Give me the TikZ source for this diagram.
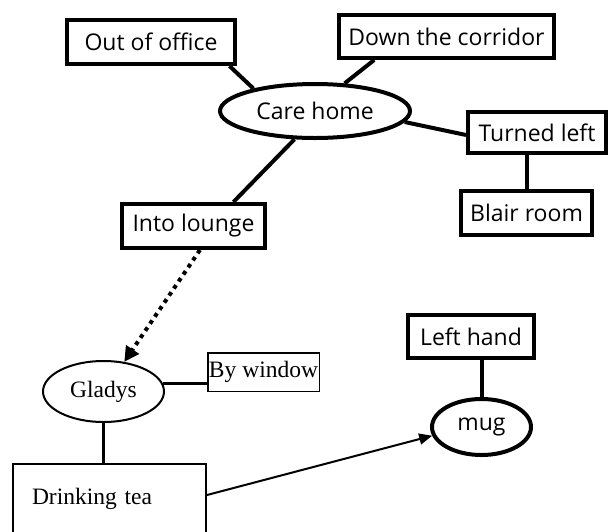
\documentclass[tikz,border=0pt]{standalone}
\usepackage{fontspec}
\setmainfont{Open Sans}
\newfontfamily\timesfont{Liberation Serif}
\usetikzlibrary{arrows.meta,calc,shapes.geometric}

\tikzset{
  hand/.style={font=\fontsize{23}{26}\selectfont, inner sep=0pt, line width=4pt},
  handbox/.style={hand, draw, rectangle},
  handoval/.style={hand, draw, ellipse},
  link/.style={line width=4pt},
  serif/.style={font=\timesfont\fontsize{23.5}{26}\selectfont, inner sep=0pt}
}

\begin{document}
\begin{tikzpicture}[x=1pt,y=-1pt]
  \useasboundingbox (0,0) rectangle (608,531);

  % upper cluster: route to the lounge
  \node[handbox, minimum width=168pt, minimum height=44pt] (out) at (151,42) {Out of office};
  \node[handbox, minimum width=215pt, minimum height=43pt] (corr) at (446.5,36.5) {Down the corridor};
  \node[handoval, minimum width=190pt, minimum height=54pt] (care) at (315,111) {Care home};
  \node[handbox, minimum width=138pt, minimum height=41pt] (turn) at (537,132.5) {Turned left};
  \node[handbox, minimum width=131pt, minimum height=44pt] (blair) at (526.5,213) {Blair room};
  \node[handbox, minimum width=143pt, minimum height=44pt] (lounge) at (193.5,226) {Into lounge};

  \draw[link] (out.-17) -- (care.160);
  \draw[link] (corr.-162) -- (care.43);
  \draw[link] (care.-7) -- (turn.-178);
  \draw[link] (blair.north |- turn.south) -- (blair.north);
  \draw[link] (care.-126) -- (lounge.31);

  % lower cluster: Gladys and her tea
  \node[serif, draw, ellipse, line width=2pt, minimum width=121pt, minimum height=61pt] (gladys) at (103.5,391.5) {Gladys};
  \node[serif, draw, rectangle, line width=1.5pt, minimum width=111.5pt, minimum height=38.5pt] (bywin) at (263.5,372) {By window};
  \node[serif, draw, rectangle, line width=2pt, minimum height=70pt, text width=155pt, inner xsep=19pt, align=left] (tea) at (109.5,499) {Drinking tea};
  \node[handbox, minimum width=126pt, minimum height=43pt] (lhand) at (471,336.5) {Left hand};
  \node[handoval, minimum width=99pt, minimum height=56pt] (mug) at (481.5,427) {mug};

  \draw[line width=4pt, dash pattern=on 4pt off 4.5pt,
        -{Triangle[length=15pt,width=15pt]}] (lounge.-75) -- (gladys.55);

  \coordinate (gw) at ([xshift=-2pt,yshift=8.5pt]gladys.east);
  \draw[line width=3pt] (gw) -- (gw -| bywin.west);
  \draw[line width=2.5pt] (gladys.south) -- (gladys.south |- tea.north);
  \draw[line width=2pt, -{Triangle[length=13pt,width=11pt]}] ([yshift=4pt]tea.east) -- (mug.190);
  \draw[link] (mug.north) -- (mug.north |- lhand.south);
\end{tikzpicture}
\end{document}
